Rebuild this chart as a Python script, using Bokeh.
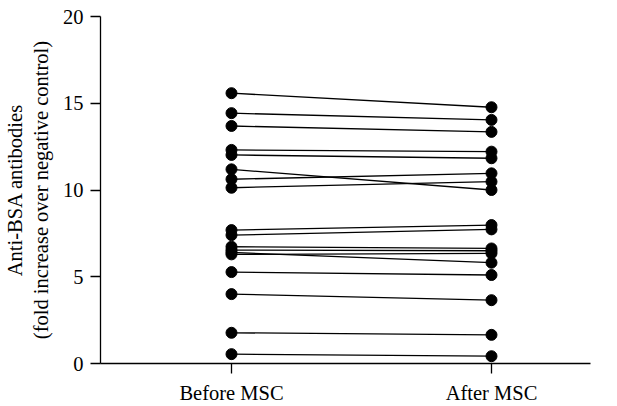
from bokeh.plotting import figure
from bokeh.models import Range1d, FixedTicker
from bokeh.embed import file_html
from bokeh.resources import INLINE

categories = ["Before MSC", "After MSC"]
cat_pos = [1, 2]
before = [15.58, 14.43, 13.69, 12.31, 12.02, 11.19, 10.62, 10.13, 7.69, 7.40,
          6.73, 6.54, 6.40, 6.29, 5.27, 4.00, 1.77, 0.54]
after = [14.77, 14.04, 13.35, 12.21, 11.83, 10.00, 10.96, 10.48, 7.98, 7.73,
         6.63, 6.50, 5.81, 6.35, 5.10, 3.65, 1.65, 0.42]
y_ticks = [0, 5, 10, 15, 20]

FONT = "Liberation Serif"
FS = "20.5px"

p = figure(width=609, height=406, output_backend="svg", toolbar_location=None,
           x_range=Range1d(0.4962, 2.3808), y_range=Range1d(0, 20),
           min_border_left=100, min_border_right=19, min_border_top=16,
           min_border_bottom=43)
p.outline_line_color = None
p.xgrid.grid_line_color = None
p.ygrid.grid_line_color = None

xs = [list(cat_pos) for _ in before]
ys = [[b, a] for b, a in zip(before, after)]
p.multi_line(xs=xs, ys=ys, line_color="black", line_width=1.3)
p.scatter([cat_pos[0]] * len(before), before, size=11, color="black")
p.scatter([cat_pos[1]] * len(after), after, size=11, color="black")

p.xaxis.ticker = FixedTicker(ticks=cat_pos)
p.xaxis.major_label_overrides = {cp: c for cp, c in zip(cat_pos, categories)}
p.yaxis.ticker = FixedTicker(ticks=y_ticks)
p.yaxis.axis_label = "Anti-BSA antibodies\n(fold increase over negative control)"

for ax in (p.xaxis[0], p.yaxis[0]):
    ax.axis_line_color = "black"
    ax.axis_line_width = 1.3
    ax.major_tick_line_color = "black"
    ax.major_tick_line_width = 1.3
    ax.major_tick_out = 10
    ax.major_tick_in = 0
    ax.minor_tick_line_color = None
    ax.major_label_text_font = FONT
    ax.major_label_text_font_size = FS
    ax.major_label_text_color = "black"
    ax.axis_label_text_font = FONT
    ax.axis_label_text_font_size = FS
    ax.axis_label_text_font_style = "normal"
    ax.axis_label_text_color = "black"

p.xaxis.major_label_standoff = 8
p.yaxis.major_label_standoff = 7
p.yaxis.axis_label_standoff = 8

open("out.html", "w").write(file_html(p, INLINE))
